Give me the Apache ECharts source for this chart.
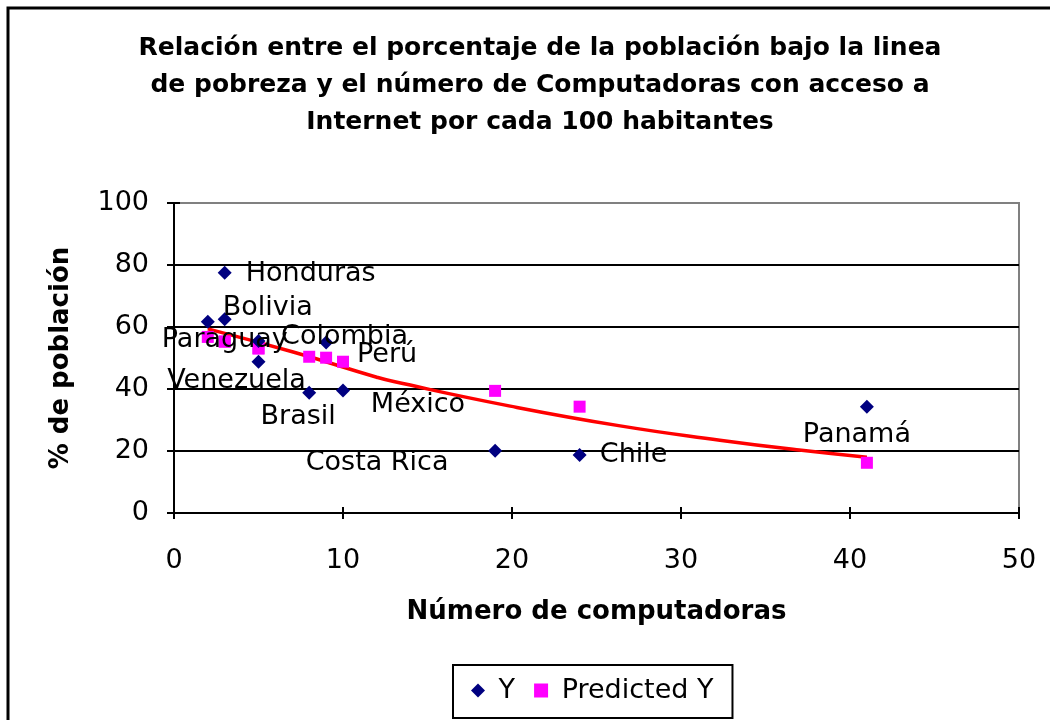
<!DOCTYPE html>
<html>
<head>
<meta charset="utf-8">
<script src="https://cdn.jsdelivr.net/npm/echarts@6/dist/echarts.min.js"></script>
<style>
  html, body { margin: 0; padding: 0; background: #fff; }
  #chart { width: 1050px; height: 720px; }
</style>
</head>
<body>
<div id="chart"></div>
<script>
// data
var countries = ['Paraguay', 'Honduras', 'Bolivia', 'Colombia', 'Venezuela', 'Brasil', 'Perú', 'México', 'Costa Rica', 'Chile', 'Panamá']
var computers = [2, 3, 3, 5, 5, 8, 9, 10, 19, 24, 41]
var poverty = [61.7, 77.5, 62.5, 55.5, 48.8, 38.8, 55.0, 39.5, 20.1, 18.7, 34.3]
var predicted = [56.8, 55.3, 55.3, 53.1, 53.1, 50.4, 50.1, 48.8, 39.4, 34.3, 16.2]
var trendX = [2, 7, 12, 13, 19.6, 26.4, 32.3, 37, 41]
var trendY = [59.4, 52, 43.8, 42.4, 34.8, 28.1, 23.5, 20.3, 18]
var xTicks = [0, 10, 20, 30, 40, 50]
var yTicks = [0, 20, 40, 60, 80, 100]

// where each country name sits relative to its point (px)
var labelOffsets = {
  'Paraguay': [17, 18],
  'Honduras': [86, 1],
  'Bolivia': [43, -11],
  'Colombia': [86, -4],
  'Venezuela': [-22, 19],
  'Brasil': [-11, 24],
  'Perú': [61, 12],
  'México': [75, 14],
  'Costa Rica': [-118, 12],
  'Chile': [54, 0],
  'Panamá': [-10, 28]
}

var font = 'DejaVu Sans'

let myChart = echarts.init(document.getElementById('chart'))

let yData = countries.map(function (c, i) {
  return {
    name: c,
    value: [computers[i], poverty[i]],
    label: { offset: labelOffsets[c] }
  }
})
let predData = computers.map(function (x, i) {
  return [x, predicted[i]]
})
let trendData = trendX.map(function (x, i) {
  return [x, trendY[i]]
})

let option = {
  animation: false,
  backgroundColor: '#fff',
  textStyle: { fontFamily: font, color: '#000' },
  title: {
    text: 'Relación entre el porcentaje de la población bajo la linea\nde pobreza y el número de Computadoras con acceso a\nInternet por cada 100 habitantes',
    left: 535,
    top: 25,
    textAlign: 'center',
    textStyle: {
      fontFamily: font,
      fontWeight: 'bold',
      fontSize: 25,
      lineHeight: 37,
      color: '#000'
    }
  },
  graphic: [{
    type: 'rect',
    shape: { x: 8, y: 8, width: 1100, height: 800 },
    style: { fill: 'none', stroke: '#000', lineWidth: 3 },
    z: 100
  }],
  legend: {
    data: [
      { name: 'Y', icon: 'diamond' },
      { name: 'Predicted Y', icon: 'rect' }
    ],
    formatter: ' {name}',
    left: 453,
    top: 665,
    orient: 'horizontal',
    itemWidth: 14,
    itemHeight: 14,
    itemGap: 19,
    padding: [12, 19, 14, 18],
    borderColor: '#000',
    borderWidth: 2,
    textStyle: { fontFamily: font, fontSize: 27, color: '#000' }
  },
  grid: {
    left: 174,
    right: 31,
    top: 203,
    bottom: 207,
    show: true,
    borderColor: '#808080',
    borderWidth: 2,
    backgroundColor: '#fff'
  },
  xAxis: [{
    type: 'value',
    position: 'bottom',
    min: xTicks[0],
    max: xTicks[xTicks.length - 1],
    interval: 10,
    name: 'Número de computadoras',
    nameLocation: 'middle',
    nameGap: 86,
    nameTextStyle: { fontFamily: font, fontWeight: 'bold', fontSize: 26, color: '#000' },
    axisLine: { lineStyle: { color: '#000', width: 2 } },
    axisTick: { inside: false, length: 6, lineStyle: { color: '#000', width: 2 } },
    axisLabel: { margin: 34, fontSize: 27, color: '#000', fontFamily: font },
    splitLine: { show: false }
  }, {
    type: 'value',
    position: 'bottom',
    offset: 0,
    min: xTicks[0],
    max: xTicks[xTicks.length - 1],
    interval: 10,
    axisLine: { show: false },
    axisTick: { inside: true, length: 6, lineStyle: { color: '#000', width: 2 } },
    axisLabel: { show: false },
    splitLine: { show: false }
  }],
  yAxis: [{
    type: 'value',
    position: 'left',
    min: yTicks[0],
    max: yTicks[yTicks.length - 1],
    interval: 20,
    name: '% de población',
    nameLocation: 'middle',
    nameGap: 100,
    nameTextStyle: { fontFamily: font, fontWeight: 'bold', fontSize: 26, color: '#000' },
    axisLine: { show: true, lineStyle: { color: '#000', width: 2 } },
    axisTick: { show: true, inside: false, length: 7, lineStyle: { color: '#000', width: 2 } },
    axisLabel: { margin: 25, fontSize: 27, color: '#000', fontFamily: font },
    splitLine: { show: true, showMinLine: false, showMaxLine: false, lineStyle: { color: '#000', width: 2 } }
  }, {
    type: 'value',
    position: 'left',
    offset: 0,
    min: yTicks[0],
    max: yTicks[yTicks.length - 1],
    interval: 20,
    axisLine: { show: false },
    axisTick: { show: true, inside: true, length: 6, lineStyle: { color: '#000', width: 2 } },
    axisLabel: { show: false },
    splitLine: { show: false }
  }],
  series: [{
    name: 'trend',
    type: 'line',
    data: trendData,
    smooth: true,
    symbol: 'none',
    lineStyle: { color: '#ff0000', width: 3.5 },
    z: 3
  }, {
    name: 'Predicted Y',
    type: 'scatter',
    data: predData,
    symbol: 'rect',
    symbolSize: 12,
    itemStyle: { color: '#ff00ff', opacity: 1 },
    z: 4
  }, {
    name: 'Y',
    type: 'scatter',
    data: yData,
    symbol: 'diamond',
    symbolSize: 14,
    itemStyle: { color: '#000080', opacity: 1 },
    label: {
      show: true,
      position: 'inside',
      formatter: '{b}',
      fontFamily: font,
      fontSize: 27,
      color: '#000',
      opacity: 1
    },
    z: 5
  }]
}
myChart.setOption(option)
</script>
</body>
</html>
